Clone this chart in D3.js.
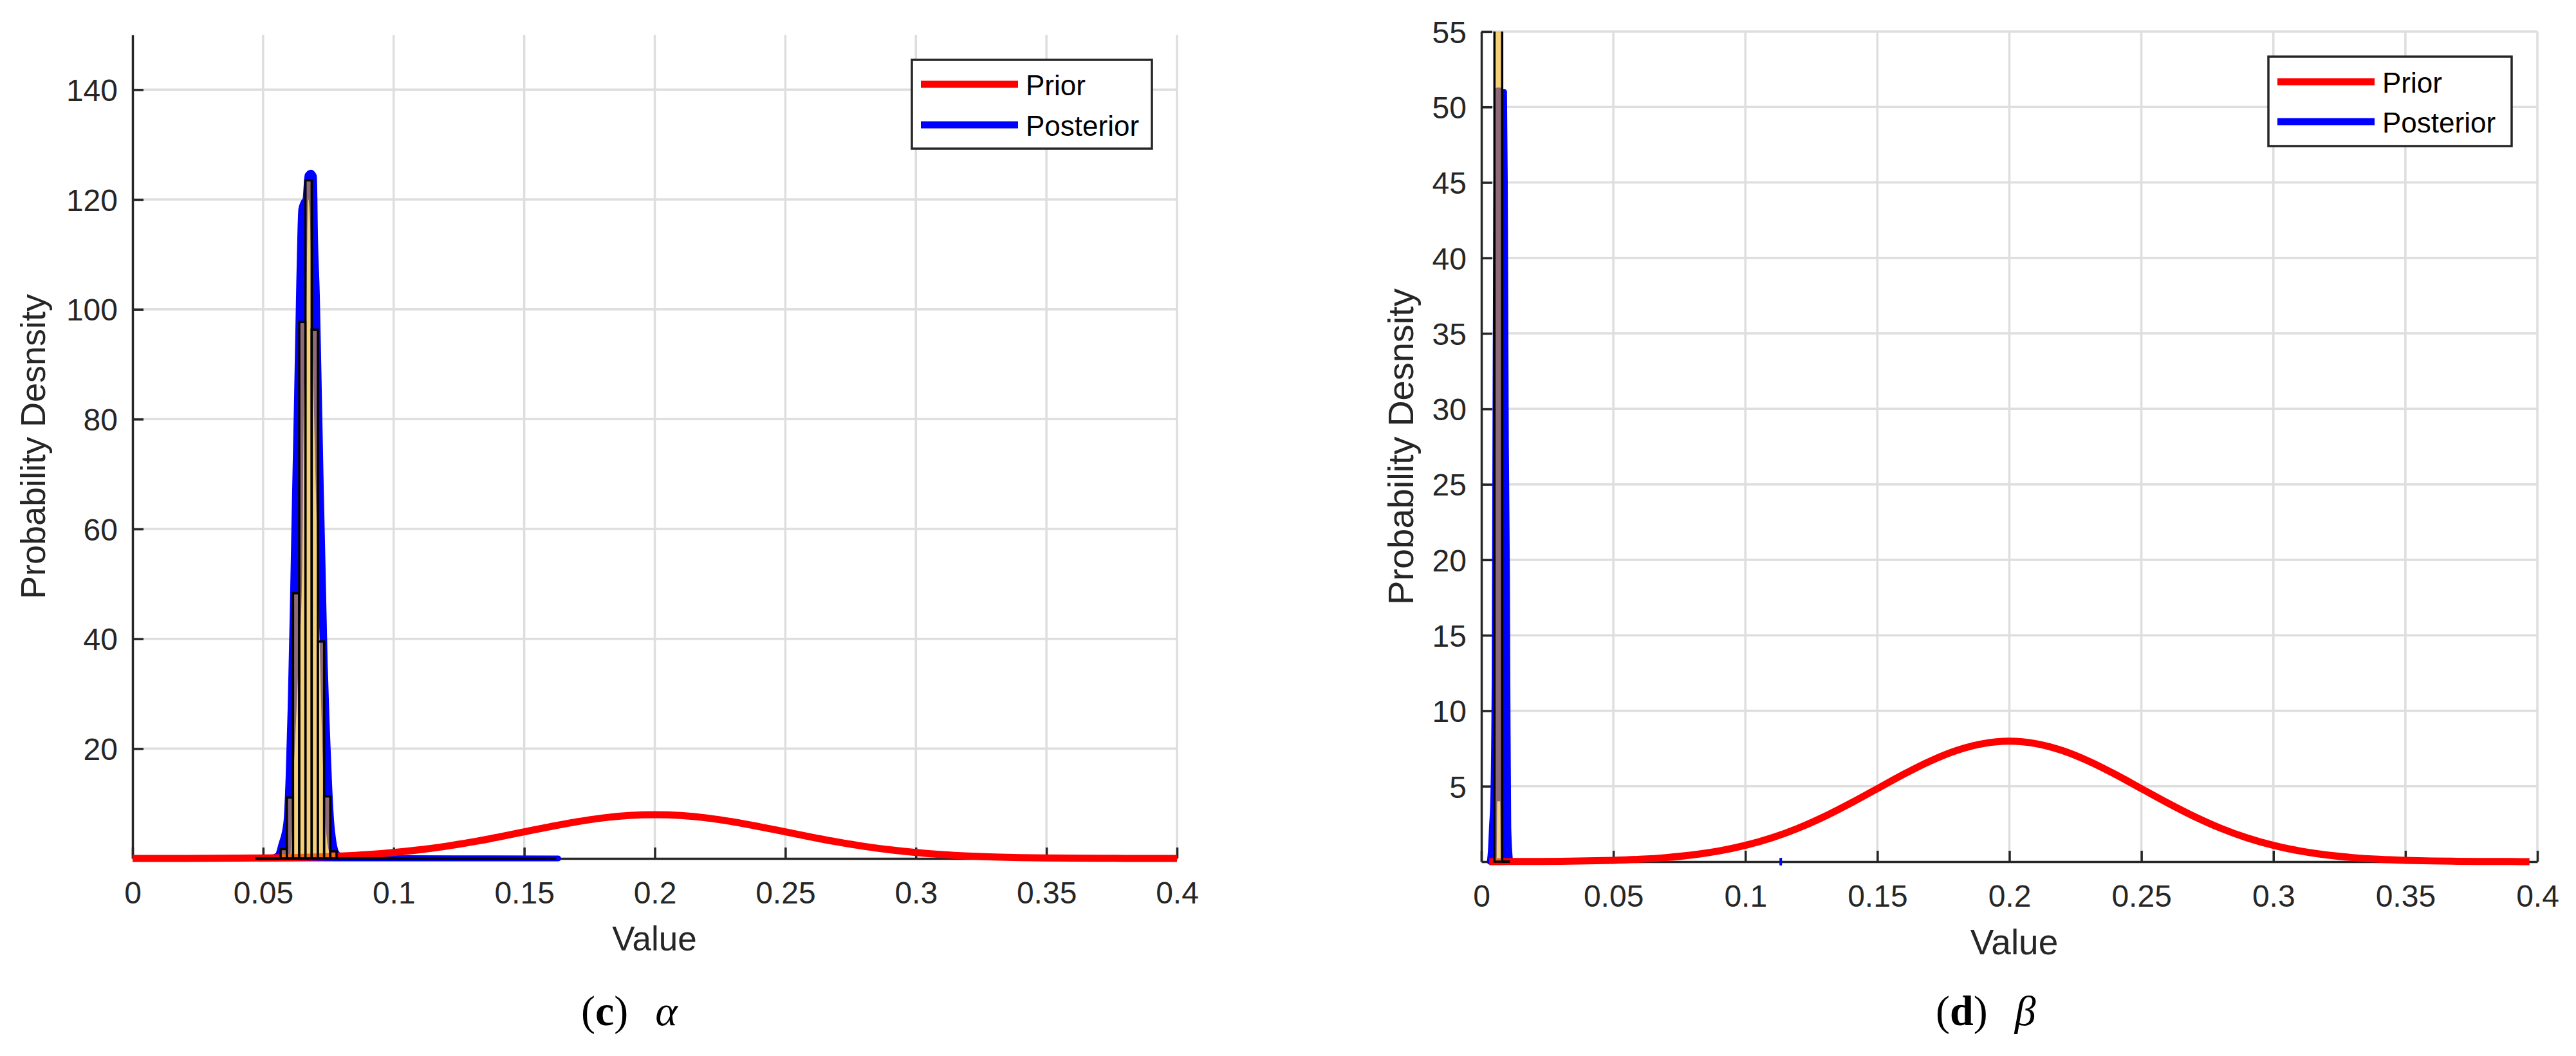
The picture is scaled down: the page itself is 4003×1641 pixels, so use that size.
<!DOCTYPE html>
<html><head><meta charset="utf-8">
<script src="https://cdn.jsdelivr.net/npm/d3@7"></script>
<style>body{margin:0;background:#fff;} svg{display:block;}</style>
</head><body>
<svg id="chart" width="4003" height="1641"></svg>
<script>
// ---------------- DATA ----------------
const xTicks = [0, 0.05, 0.1, 0.15, 0.2, 0.25, 0.3, 0.35, 0.4];
const xTickLabels = ["0", "0.05", "0.1", "0.15", "0.2", "0.25", "0.3", "0.35", "0.4"];
const alphaYTicks = [20, 40, 60, 80, 100, 120, 140];
const betaYTicks = [5, 10, 15, 20, 25, 30, 35, 40, 45, 50, 55];
const seriesNames = ["Prior", "Posterior"];

// Prior density (same prior shape in both panels)
const alphaPriorX = [0,0.01,0.02,0.03,0.04,0.05,0.06,0.07,0.08,0.09,0.10,0.11,0.12,0.13,0.14,0.15,0.16,0.17,0.18,0.19,0.20,
  0.21,0.22,0.23,0.24,0.25,0.26,0.27,0.28,0.29,0.30,0.31,0.32,0.33,0.34,0.35,0.36,0.37,0.38,0.39,0.40];
const alphaPriorDensity = [0.003,0.006,0.012,0.025,0.048,0.089,0.158,0.272,0.448,0.709,1.080,1.579,2.218,2.995,3.884,4.839,5.794,6.665,7.366,7.821,7.979,
  7.821,7.366,6.665,5.794,4.839,3.884,2.995,2.218,1.579,1.080,0.709,0.448,0.272,0.158,0.089,0.048,0.025,0.012,0.006,0.003];
const betaPriorX = [0.003,0.01,0.02,0.03,0.04,0.05,0.06,0.07,0.08,0.09,0.10,0.11,0.12,0.13,0.14,0.15,0.16,0.17,0.18,0.19,0.20,
  0.21,0.22,0.23,0.24,0.25,0.26,0.27,0.28,0.29,0.30,0.31,0.32,0.33,0.34,0.35,0.36,0.37,0.38,0.39,0.397];
const betaPriorDensity = [0.004,0.006,0.012,0.025,0.048,0.089,0.158,0.272,0.448,0.709,1.080,1.579,2.218,2.995,3.884,4.839,5.794,6.665,7.366,7.821,7.979,
  7.821,7.366,6.665,5.794,4.839,3.884,2.995,2.218,1.579,1.080,0.709,0.448,0.272,0.158,0.089,0.048,0.025,0.012,0.006,0.004];

// Posterior (blue) outer envelope
const alphaPostX = [0.0485,0.0530,0.0556,0.0570,0.0589,0.0597,0.0605,0.0613,0.0621,0.0630,0.0638,0.0646,0.0655,0.0662,0.0670,0.0683,0.0695,
  0.0699,0.0706,0.0712,0.0720,0.0728,0.0736,0.0745,0.0753,0.0761,0.0769,0.0781,0.0800,0.0850,0.1630];
const alphaPostDensity = [0,0.1,0.6,2.6,6.6,14.3,27.2,44.4,64.1,84.7,104.5,118.2,119.5,120,124.4,124.9,124.2,
  113,102.7,89,70,53,35.8,22.9,13.5,6.6,3.2,1,0.3,0.1,0];
// Region inside the posterior trace left uncovered (shows only the bars)
const alphaGapX = [0.0605,0.0611,0.0632,0.0650,0.0655,0.0665,0.0669,0.0673,0.0679,0.0690,0.0704,0.0716,0.0728,0.0740,0.0756,0.0760];
const alphaGapDensity = [0,8.3,31.5,53,78.7,97.6,113,120,117,91.6,63,40,18.6,5.7,0.6,0];

const betaPostX = [0.0032,0.0036,0.0040,0.0045,0.0050,0.0054,0.0061,0.0070,0.0080,0.0086,0.0089,0.0091,0.0093,0.0097,0.0099,0.0102,0.0109];
const betaPostDensity = [0,0.8,2.3,4.2,12,33.5,51.1,51.1,51,51,45,36.4,27.8,19.2,10.9,2.3,0];
const betaGapX = [0.0058,0.0060,0.0071,0.0073];
const betaGapDensity = [0,4,4,0];
const betaPostOutlierX = [0.1134];

// Histogram of posterior samples (bin left edge, right edge, density)
const alphaHistLeft = [0.0567,0.05908,0.06146,0.06384,0.06622,0.0686,0.07098,0.07336,0.07574];
const alphaHistRight = [0.05908,0.06146,0.06384,0.06622,0.0686,0.07098,0.07336,0.07574,0.07812];
const alphaHistDensity = [1.7,11.1,48.3,97.7,123.5,96.3,39.5,11.3,1.3];
const alphaHistEmptySpan = [0.0470, 0.1622];
const betaHistLeft = [0.00495];
const betaHistRight = [0.00788];
const betaHistDensity = [340];
const betaHistEmptySpan = [0.00788, 0.01081];

// ---------------- LAYOUT ----------------
const svg = d3.select("#chart");
const SANS = "'Liberation Sans', Arial, Helvetica, sans-serif";
const SERIF = "'Liberation Serif', 'Times New Roman', serif";
const AXC = "#262626";

const panels = [
  {id:"a", x0:206, x1:1829, yTop:54, yBot:1334, yMax:150, yTicks:alphaYTicks,
   priorX:alphaPriorX, priorY:alphaPriorDensity, postX:alphaPostX, postY:alphaPostDensity,
   gapX:alphaGapX, gapY:alphaGapDensity, histL:alphaHistLeft, histR:alphaHistRight, histD:alphaHistDensity,
   empty:alphaHistEmptySpan, outliers:[],
   ylabX:70, ylabSize:54, xlabX:1017, xlabY:1477, xlabSize:53,
   legend:{x:1417, y:93, w:373, h:138, r1:131, r2:194},
   cap:{x:903, y:1593, letter:"c", sym:"α"}},
  {id:"b", x0:2302, x1:3943, yTop:49, yBot:1339, yMax:55, yTicks:betaYTicks,
   priorX:betaPriorX, priorY:betaPriorDensity, postX:betaPostX, postY:betaPostDensity,
   gapX:betaGapX, gapY:betaGapDensity, histL:betaHistLeft, histR:betaHistRight, histD:betaHistDensity,
   empty:betaHistEmptySpan, outliers:betaPostOutlierX,
   ylabX:2196, ylabSize:56, xlabX:3130, xlabY:1483, xlabSize:55,
   legend:{x:3525, y:88, w:378, h:139, r1:127, r2:189},
   cap:{x:3008, y:1593, letter:"d", sym:"β"}}
];

function drawPanel(p) {
  const x = d3.scaleLinear().domain([0, 0.4]).range([p.x0, p.x1]);
  const y = d3.scaleLinear().domain([0, p.yMax]).range([p.yBot, p.yTop]);
  const g = svg.append("g");

  // grid
  g.append("g").selectAll("line").data(xTicks.slice(1)).join("line")
    .attr("x1", d => x(d)).attr("x2", d => x(d)).attr("y1", p.yTop).attr("y2", p.yBot)
    .attr("stroke", "#dedede").attr("stroke-width", 3.5);
  g.append("g").selectAll("line").data(p.yTicks).join("line")
    .attr("x1", p.x0).attr("x2", p.x1).attr("y1", d => y(d)).attr("y2", d => y(d))
    .attr("stroke", "#dedede").attr("stroke-width", 3.5);

  // axes
  const xAxis = d3.axisBottom(x).tickValues(xTicks).tickFormat((d, i) => xTickLabels[i])
    .tickSizeInner(-17).tickSizeOuter(0).tickPadding(36);
  const gx = g.append("g").attr("transform", `translate(0,${p.yBot})`).call(xAxis);
  const yAxis = d3.axisLeft(y).tickValues(p.yTicks).tickFormat(d3.format("d"))
    .tickSizeInner(-17).tickSizeOuter(0).tickPadding(23);
  const gy = g.append("g").attr("transform", "translate(" + p.x0 + ",0)").call(yAxis);
  [gx, gy].forEach(a => {
    a.attr("font-family", SANS).attr("font-size", 48);
    a.selectAll("path, line").attr("stroke", AXC).attr("stroke-width", 3.5);
    a.selectAll("text").attr("fill", AXC);
  });
  gy.selectAll("text").attr("dy", "0.36em");

  // labels
  g.append("text").attr("transform", `translate(${p.ylabX},${(p.yTop + p.yBot) / 2}) rotate(-90)`)
    .attr("text-anchor", "middle").attr("font-family", SANS).attr("font-size", p.ylabSize)
    .attr("fill", AXC).text("Probability Desnsity");
  g.append("text").attr("x", p.xlabX).attr("y", p.xlabY).attr("text-anchor", "middle")
    .attr("font-family", SANS).attr("font-size", p.xlabSize).attr("fill", AXC).text("Value");

  // data layer, clipped at top
  const clipId = "clip-" + p.id;
  svg.append("clipPath").attr("id", clipId).append("rect")
    .attr("x", p.x0 - 30).attr("y", p.yTop).attr("width", p.x1 - p.x0 + 60).attr("height", p.yBot - p.yTop + 40);
  const d = g.append("g").attr("clip-path", `url(#${clipId})`);

  const areaGen = d3.area().x(v => x(v[0])).y0(y(0)).y1(v => y(v[1])).curve(d3.curveMonotoneX);
  const lineGen = d3.line().x(v => x(v[0])).y(v => y(v[1])).curve(d3.curveMonotoneX);

  const post = p.postX.map((v, i) => [v, p.postY[i]]);
  d.append("path").attr("d", areaGen(post)).attr("fill", "#0000ff")
    .attr("stroke", "#0000ff").attr("stroke-width", 9).attr("stroke-linejoin", "round");
  const gap = p.gapX.map((v, i) => [v, p.gapY[i]]);
  d.append("path").attr("d", areaGen(gap)).attr("fill", "#ffffff");
  p.outliers.forEach(o => {
    d.append("line").attr("x1", x(o)).attr("x2", x(o)).attr("y1", y(-0.25)).attr("y2", y(0.25))
      .attr("stroke", "#0000ff").attr("stroke-width", 4);
  });

  const prior = p.priorX.map((v, i) => [v, p.priorY[i]]);
  d.append("path").attr("d", lineGen(prior)).attr("fill", "none")
    .attr("stroke", "#ff0000").attr("stroke-width", 11).attr("stroke-linejoin", "round");

  // histogram
  d.append("line").attr("x1", x(p.empty[0])).attr("x2", x(p.empty[1]))
    .attr("y1", y(0)).attr("y2", y(0)).attr("stroke", "#000").attr("stroke-width", 4);
  const bins = p.histL.map((l, i) => ({l: l, r: p.histR[i], v: p.histD[i]}));
  d.append("g").selectAll("rect").data(bins).join("rect")
    .attr("x", b => x(b.l)).attr("width", b => x(b.r) - x(b.l))
    .attr("y", b => y(b.v)).attr("height", b => y(0) - y(b.v))
    .attr("fill", "rgb(237,177,32)").attr("fill-opacity", 0.6)
    .attr("stroke", "#000").attr("stroke-width", 3.5);

  // legend
  const L = p.legend;
  const lg = g.append("g");
  lg.append("rect").attr("x", L.x).attr("y", L.y).attr("width", L.w).attr("height", L.h)
    .attr("fill", "#fff").attr("stroke", AXC).attr("stroke-width", 3.5);
  const colors = ["#ff0000", "#0000ff"];
  [L.r1, L.r2].forEach((ry, i) => {
    lg.append("line").attr("x1", L.x + 14).attr("x2", L.x + 165).attr("y1", ry).attr("y2", ry)
      .attr("stroke", colors[i]).attr("stroke-width", 11);
    lg.append("text").attr("x", L.x + 177).attr("y", ry + 17).attr("font-family", SANS)
      .attr("font-size", 44).attr("fill", "#000").text(seriesNames[i]);
  });

  // caption
  const c = svg.append("text").attr("x", p.cap.x).attr("y", p.cap.y)
    .attr("font-family", SERIF).attr("font-size", 66).attr("fill", "#000");
  c.append("tspan").text("(");
  c.append("tspan").attr("font-weight", "bold").text(p.cap.letter);
  c.append("tspan").text(")");
  c.append("tspan").attr("dx", 42).attr("font-style", "italic").text(p.cap.sym);
}

panels.forEach(drawPanel);
</script>
</body></html>
